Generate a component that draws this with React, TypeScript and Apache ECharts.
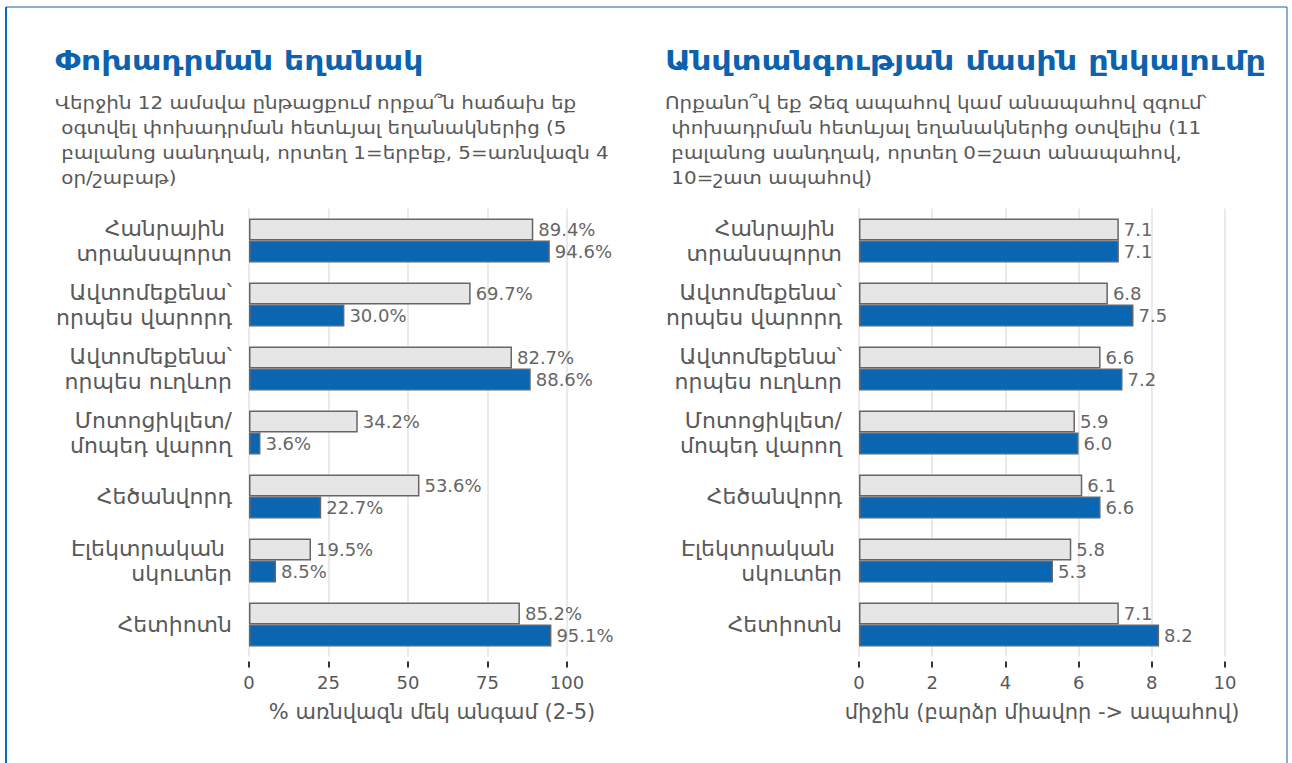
import React, { useEffect, useRef } from "react";
import * as echarts from "echarts";

const categories = [
  "Հանրային \nտրանսպորտ",
  "Ավտոմեքենա՝\nորպես վարորդ",
  "Ավտոմեքենա՝\nորպես ուղևոր",
  "Մոտոցիկլետ/\nմոպեդ վարող",
  "Հեծանվորդ",
  "Էլեկտրական \nսկուտեր",
  "Հետիոտն",
];

const freqGray = [89.4, 69.7, 82.7, 34.2, 53.6, 19.5, 85.2];
const freqBlue = [94.6, 30.0, 88.6, 3.6, 22.7, 8.5, 95.1];

const safeGray = [7.1, 6.8, 6.6, 5.9, 6.1, 5.8, 7.1];
const safeBlue = [7.1, 7.5, 7.2, 6.0, 6.6, 5.3, 8.2];

const leftTitle = "Փոխադրման եղանակ";
const leftSub =
  "Վերջին 12 ամսվա ընթացքում որքա՞ն հաճախ եք\n օգտվել փոխադրման հետևյալ եղանակներից (5\n բալանոց սանդղակ, որտեղ 1=երբեք, 5=առնվազն 4\n օր/շաբաթ)";
const rightTitle = "Անվտանգության մասին ընկալումը";
const rightSub =
  "Որքանո՞վ եք Ձեզ ապահով կամ անապահով զգում՝\n փոխադրման հետևյալ եղանակներից օտվելիս (11\n բալանոց սանդղակ, որտեղ 0=շատ անապահով,\n 10=շատ ապահով)";
const leftAxisName = "% առնվազն մեկ անգամ (2-5)";
const rightAxisName = "միջին (բարձր միավոր -> ապահով)";

const FONT = "'DejaVu Sans', sans-serif";
const BLUE = "#0a66b3";
const TITLE_BLUE = "#0b62ae";
const TXT = "#595959";

export default function App() {
  const ref = useRef<HTMLDivElement>(null);
  useEffect(() => {
    if (!ref.current) return;
    const chart = echarts.init(ref.current, undefined, { renderer: "svg" });
    const valueAxis = (idx: number, max: number, interval: number, name: string, padLeft: number) => ({
      type: "value",
      gridIndex: idx,
      min: 0,
      max,
      interval,
      offset: 5,
      name,
      nameLocation: "middle",
      nameGap: 40,
      nameTextStyle: { fontFamily: FONT, fontSize: 21, color: TXT, padding: [0, 0, 0, padLeft] },
      axisLine: { show: false },
      axisTick: { show: true, length: 6, lineStyle: { color: "#333", width: 2 } },
      axisLabel: { fontFamily: FONT, fontSize: 18, color: TXT, margin: 12 },
      splitLine: { show: true, lineStyle: { color: "#e3e3e3", width: 1.5 } },
    });
    const catAxis = (idx: number) => ({
      type: "category",
      gridIndex: idx,
      data: categories,
      inverse: true,
      axisLine: { show: false },
      axisTick: { show: false },
      axisLabel: {
        fontFamily: FONT,
        fontSize: 22,
        color: TXT,
        margin: 17,
        lineHeight: 25,
        align: "right",
      },
    });
    const barSeries = (idx: number, data: number[], color: string, fmt: (v: number) => string) => ({
      type: "bar",
      xAxisIndex: idx,
      yAxisIndex: idx,
      data,
      barWidth: 22,
      barGap: "0%",
      itemStyle: { color, borderColor: "#666", borderWidth: 1.5 },
      label: {
        show: true,
        position: "right",
        distance: 5,
        fontFamily: FONT,
        fontSize: 18,
        color: "#666",
        formatter: (p: any) => fmt(p.value),
      },
    });
    const titleText = (x: number, text: string, sx: number) => ({
      type: "text",
      x,
      y: 47,
      scaleX: sx,
      style: {
        text,
        fontFamily: FONT,
        fontSize: 27,
        fontWeight: "bold",
        fill: TITLE_BLUE,
        verticalAlign: "top",
      },
    });
    const subText = (x: number, text: string) => ({
      type: "text",
      x,
      y: 90.5,
      scaleX: 1.17,
      style: {
        text,
        fontFamily: FONT,
        fontSize: 17,
        lineHeight: 25,
        fill: TXT,
        verticalAlign: "top",
      },
    });
    chart.setOption({
      animation: false,
      backgroundColor: "#fff",
      grid: [
        { left: 249, top: 208.5, width: 318, height: 448 },
        { left: 859, top: 208.5, width: 366, height: 448 },
      ],
      xAxis: [
        valueAxis(0, 100, 25, leftAxisName, 48),
        valueAxis(1, 10, 2, rightAxisName, 0),
      ],
      yAxis: [catAxis(0), catAxis(1)],
      series: [
        barSeries(0, freqGray, "#e6e6e6", (v) => v.toFixed(1) + "%"),
        barSeries(0, freqBlue, BLUE, (v) => v.toFixed(1) + "%"),
        barSeries(1, safeGray, "#e6e6e6", (v) => v.toFixed(1)),
        barSeries(1, safeBlue, BLUE, (v) => v.toFixed(1)),
      ],
      graphic: [
        titleText(55, leftTitle, 1.16),
        subText(55, leftSub),
        titleText(665, rightTitle, 1.18),
        subText(665, rightSub),
        { type: "line", shape: { x1: 6, y1: 7, x2: 6, y2: 763 }, style: { stroke: "#0a6cc0", lineWidth: 2 } },
        { type: "line", shape: { x1: 6, y1: 7, x2: 1287, y2: 7 }, style: { stroke: "#1a5f9e", lineWidth: 1 } },
        { type: "line", shape: { x1: 1287, y1: 7, x2: 1287, y2: 763 }, style: { stroke: "#1a5f9e", lineWidth: 1 } },
      ],
    });
    return () => chart.dispose();
  }, []);
  return (
    <div
      ref={ref}
      style={{ position: "fixed", left: 0, top: 0, width: 1292, height: 763 }}
    />
  );
}
